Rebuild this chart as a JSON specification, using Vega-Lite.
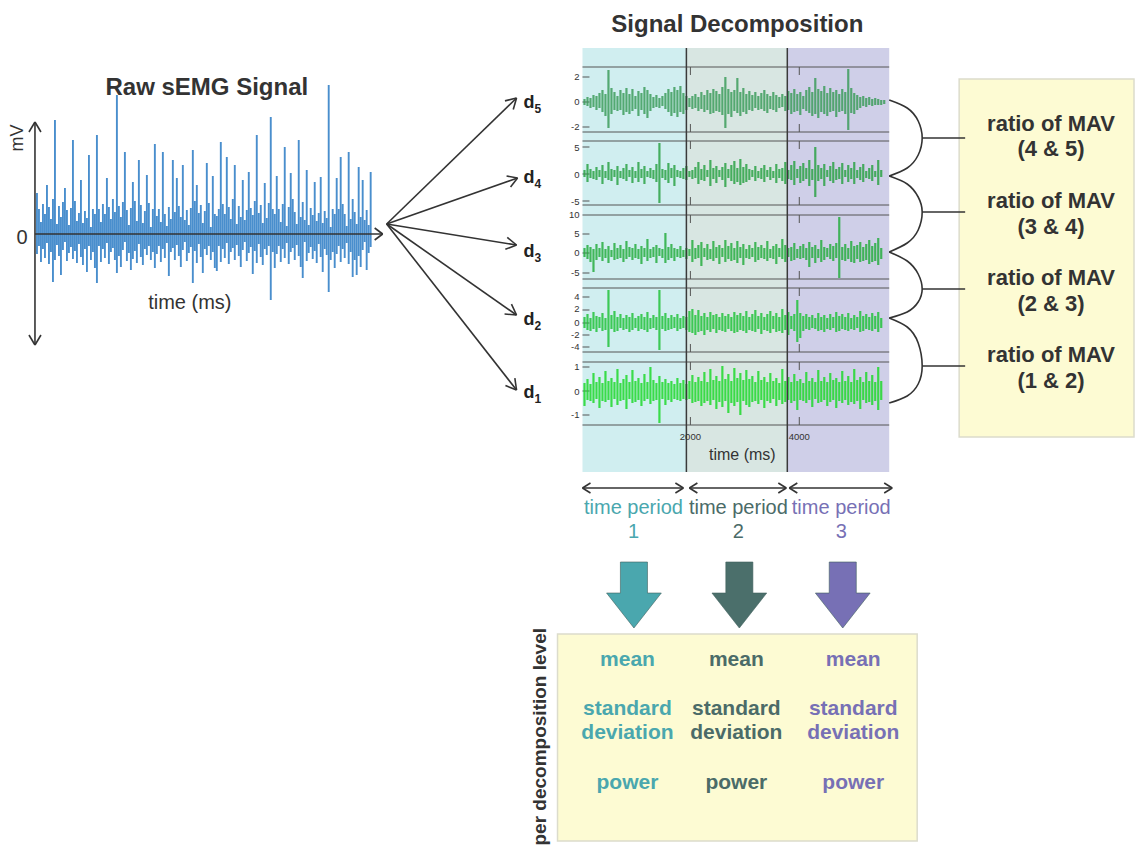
{
"$schema":"https://vega.github.io/schema/vega-lite/v6.json",
"width":1135,"height":851,"padding":0,
"autosize":{"type":"fit","contains":"padding"},
"background":"white",
"config":{"view":{"stroke":null},"text":{"font":"Liberation Sans"}},
"resolve":{"scale":{"color":"independent"}},
"encoding":{
"x":{"field":"x","type":"quantitative","scale":{"domain":[0,1135],"nice":false,"zero":false},"axis":null},
"y":{"field":"y","type":"quantitative","scale":{"domain":[0,851],"nice":false,"zero":false,"reverse":true},"axis":null}
},
"datasets":{
"periods":[{"x":583,"x2":687,"y":48,"y2":472,"p":"1"},{"x":687,"x2":788,"y":48,"y2":472,"p":"2"},{"x":788,"x2":890,"y":48,"y2":472,"p":"3"}],
"boxes":[{"x":960,"x2":1135,"y":79,"y2":437},{"x":558,"x2":918,"y":634,"y2":841}],
"grid":[
{"x":583,"y":67,"x2":890,"y2":67},{"x":583,"y":132,"x2":890,"y2":132},{"x":583,"y":141,"x2":890,"y2":141},{"x":583,"y":205,"x2":890,"y2":205},{"x":583,"y":215,"x2":890,"y2":215},{"x":583,"y":279,"x2":890,"y2":279},{"x":583,"y":288,"x2":890,"y2":288},{"x":583,"y":352,"x2":890,"y2":352},{"x":583,"y":362,"x2":890,"y2":362},{"x":583,"y":425,"x2":890,"y2":425},
{"x":691,"y":67,"x2":691,"y2":75},{"x":691,"y":124,"x2":691,"y2":132},{"x":691,"y":141,"x2":691,"y2":149},{"x":691,"y":197,"x2":691,"y2":205},{"x":691,"y":215,"x2":691,"y2":223},{"x":691,"y":271,"x2":691,"y2":279},{"x":691,"y":288,"x2":691,"y2":296},{"x":691,"y":344,"x2":691,"y2":352},{"x":691,"y":362,"x2":691,"y2":370},{"x":691,"y":417,"x2":691,"y2":425},
{"x":800,"y":67,"x2":800,"y2":75},{"x":800,"y":124,"x2":800,"y2":132},{"x":800,"y":141,"x2":800,"y2":149},{"x":800,"y":197,"x2":800,"y2":205},{"x":800,"y":215,"x2":800,"y2":223},{"x":800,"y":271,"x2":800,"y2":279},{"x":800,"y":288,"x2":800,"y2":296},{"x":800,"y":344,"x2":800,"y2":352},{"x":800,"y":362,"x2":800,"y2":370},{"x":800,"y":417,"x2":800,"y2":425},
{"x":583,"y":77,"x2":590,"y2":77},{"x":583,"y":102,"x2":590,"y2":102},{"x":583,"y":127,"x2":590,"y2":127},{"x":583,"y":147,"x2":590,"y2":147},{"x":583,"y":174,"x2":590,"y2":174},{"x":583,"y":201,"x2":590,"y2":201},{"x":583,"y":234,"x2":590,"y2":234},{"x":583,"y":253,"x2":590,"y2":253},{"x":583,"y":273,"x2":590,"y2":273},{"x":583,"y":297,"x2":590,"y2":297},{"x":583,"y":310,"x2":590,"y2":310},{"x":583,"y":323,"x2":590,"y2":323},{"x":583,"y":335,"x2":590,"y2":335},{"x":583,"y":347,"x2":590,"y2":347},{"x":583,"y":367,"x2":590,"y2":367},{"x":583,"y":391,"x2":590,"y2":391},{"x":583,"y":415,"x2":590,"y2":415}
],
"dividers":[{"x":687,"y":48,"x2":687,"y2":472},{"x":788,"y":48,"x2":788,"y2":472}],
"segs":[
{"x":35,"y":122,"x2":35,"y2":345},{"x":35,"y":122,"x2":29,"y2":132},{"x":35,"y":122,"x2":41,"y2":132},{"x":35,"y":345,"x2":29,"y2":335},{"x":35,"y":345,"x2":41,"y2":335},
{"x":35,"y":234,"x2":383,"y2":234},{"x":383,"y":234,"x2":375,"y2":228},{"x":383,"y":234,"x2":375,"y2":240},
{"x":387,"y":224,"x2":517,"y2":98},{"x":517,"y":98,"x2":505.4,"y2":100.9},{"x":517,"y":98,"x2":513.7,"y2":109.5},
{"x":387,"y":224,"x2":518,"y2":178},{"x":518,"y":178,"x2":507,"y2":176},{"x":518,"y":178,"x2":511,"y2":187},
{"x":387,"y":224,"x2":517,"y2":245},{"x":517,"y":245,"x2":507.7,"y2":237.4},{"x":517,"y":245,"x2":505.8,"y2":249.3},
{"x":387,"y":224,"x2":517,"y2":315},{"x":517,"y":315,"x2":511.9,"y2":304.1},{"x":517,"y":315,"x2":505,"y2":314},
{"x":387,"y":224,"x2":517,"y2":390},{"x":517,"y":390,"x2":515.3,"y2":378.1},{"x":517,"y":390,"x2":505.9,"y2":385.5},
{"x":923,"y":138,"x2":966,"y2":138},{"x":923,"y":212,"x2":966,"y2":212},{"x":923,"y":289,"x2":966,"y2":289},{"x":923,"y":366,"x2":966,"y2":366},
{"x":583,"y":488,"x2":684,"y2":488},{"x":583,"y":488,"x2":591,"y2":483},{"x":583,"y":488,"x2":591,"y2":493},{"x":684,"y":488,"x2":676,"y2":483},{"x":684,"y":488,"x2":676,"y2":493},
{"x":690,"y":488,"x2":787,"y2":488},{"x":690,"y":488,"x2":698,"y2":483},{"x":690,"y":488,"x2":698,"y2":493},{"x":787,"y":488,"x2":779,"y2":483},{"x":787,"y":488,"x2":779,"y2":493},
{"x":790,"y":488,"x2":893,"y2":488},{"x":790,"y":488,"x2":798,"y2":483},{"x":790,"y":488,"x2":798,"y2":493},{"x":893,"y":488,"x2":885,"y2":483},{"x":893,"y":488,"x2":885,"y2":493}
],
"arcs":[
{"g":1,"o":0,"x":890,"y":100},{"g":1,"o":1,"x":908,"y":108},{"g":1,"o":2,"x":919,"y":121},{"g":1,"o":3,"x":923,"y":138},{"g":1,"o":4,"x":919,"y":155},{"g":1,"o":5,"x":908,"y":168},{"g":1,"o":6,"x":890,"y":176},
{"g":2,"o":0,"x":890,"y":176},{"g":2,"o":1,"x":908,"y":184},{"g":2,"o":2,"x":919,"y":197},{"g":2,"o":3,"x":923,"y":212},{"g":2,"o":4,"x":919,"y":230},{"g":2,"o":5,"x":908,"y":243},{"g":2,"o":6,"x":890,"y":252},
{"g":3,"o":0,"x":890,"y":252},{"g":3,"o":1,"x":908,"y":261},{"g":3,"o":2,"x":919,"y":274},{"g":3,"o":3,"x":923,"y":289},{"g":3,"o":4,"x":919,"y":302},{"g":3,"o":5,"x":908,"y":312},{"g":3,"o":6,"x":890,"y":318},
{"g":4,"o":0,"x":890,"y":318},{"g":4,"o":1,"x":908,"y":327},{"g":4,"o":2,"x":919,"y":343},{"g":4,"o":3,"x":923,"y":366},{"g":4,"o":4,"x":919,"y":384},{"g":4,"o":5,"x":908,"y":396},{"g":4,"o":6,"x":890,"y":403}
],
"raw":[
{"x":37,"y":193,"y2":254},{"x":39,"y":209,"y2":246},{"x":41,"y":222,"y2":262},{"x":43,"y":204,"y2":249},{"x":45,"y":214,"y2":258},{"x":47,"y":185,"y2":243},{"x":49,"y":207,"y2":264},{"x":51,"y":219,"y2":252},{"x":53,"y":199,"y2":282},{"x":55,"y":120,"y2":260},
{"x":57,"y":224,"y2":245},{"x":59,"y":206,"y2":256},{"x":61,"y":217,"y2":275},{"x":63,"y":202,"y2":250},{"x":65,"y":188,"y2":242},{"x":67,"y":210,"y2":261},{"x":69,"y":225,"y2":253},{"x":71,"y":208,"y2":247},{"x":73,"y":140,"y2":259},{"x":75,"y":201,"y2":251},
{"x":77,"y":221,"y2":263},{"x":79,"y":213,"y2":244},{"x":81,"y":180,"y2":257},{"x":83,"y":223,"y2":265},{"x":85,"y":211,"y2":249},{"x":87,"y":218,"y2":272},{"x":89,"y":155,"y2":246},{"x":91,"y":227,"y2":260},{"x":93,"y":209,"y2":252},{"x":95,"y":214,"y2":268},
{"x":97,"y":135,"y2":283},{"x":99,"y":209,"y2":246},{"x":101,"y":222,"y2":262},{"x":103,"y":204,"y2":249},{"x":105,"y":214,"y2":258},{"x":107,"y":178,"y2":243},{"x":109,"y":207,"y2":264},{"x":111,"y":219,"y2":252},{"x":113,"y":199,"y2":248},{"x":115,"y":212,"y2":260},
{"x":117,"y":95,"y2":273},{"x":119,"y":206,"y2":256},{"x":121,"y":217,"y2":267},{"x":123,"y":202,"y2":250},{"x":125,"y":152,"y2":242},{"x":127,"y":210,"y2":261},{"x":129,"y":225,"y2":253},{"x":131,"y":208,"y2":270},{"x":133,"y":182,"y2":259},{"x":135,"y":201,"y2":251},
{"x":137,"y":221,"y2":263},{"x":139,"y":160,"y2":244},{"x":141,"y":205,"y2":257},{"x":143,"y":223,"y2":265},{"x":145,"y":211,"y2":249},{"x":147,"y":175,"y2":255},{"x":149,"y":203,"y2":246},{"x":151,"y":227,"y2":260},{"x":153,"y":209,"y2":252},{"x":155,"y":144,"y2":268},
{"x":157,"y":216,"y2":254},{"x":159,"y":209,"y2":246},{"x":161,"y":222,"y2":262},{"x":163,"y":152,"y2":249},{"x":165,"y":214,"y2":258},{"x":167,"y":226,"y2":243},{"x":169,"y":207,"y2":276},{"x":171,"y":219,"y2":252},{"x":173,"y":160,"y2":248},{"x":175,"y":212,"y2":260},
{"x":177,"y":178,"y2":245},{"x":179,"y":206,"y2":256},{"x":181,"y":217,"y2":267},{"x":183,"y":165,"y2":250},{"x":185,"y":220,"y2":242},{"x":187,"y":210,"y2":261},{"x":189,"y":225,"y2":253},{"x":191,"y":208,"y2":247},{"x":193,"y":150,"y2":283},{"x":195,"y":201,"y2":251},
{"x":197,"y":185,"y2":263},{"x":199,"y":213,"y2":244},{"x":201,"y":205,"y2":257},{"x":203,"y":223,"y2":273},{"x":205,"y":211,"y2":249},{"x":207,"y":163,"y2":255},{"x":209,"y":203,"y2":246},{"x":211,"y":227,"y2":260},{"x":213,"y":176,"y2":252},{"x":215,"y":214,"y2":268},
{"x":217,"y":216,"y2":271},{"x":219,"y":209,"y2":246},{"x":221,"y":142,"y2":262},{"x":223,"y":204,"y2":249},{"x":225,"y":214,"y2":258},{"x":227,"y":157,"y2":243},{"x":229,"y":207,"y2":264},{"x":231,"y":219,"y2":252},{"x":233,"y":199,"y2":248},{"x":235,"y":165,"y2":260},
{"x":237,"y":224,"y2":245},{"x":239,"y":206,"y2":256},{"x":241,"y":217,"y2":267},{"x":243,"y":180,"y2":250},{"x":245,"y":220,"y2":242},{"x":247,"y":210,"y2":261},{"x":249,"y":172,"y2":253},{"x":251,"y":208,"y2":247},{"x":253,"y":215,"y2":274},{"x":255,"y":201,"y2":251},
{"x":257,"y":135,"y2":263},{"x":259,"y":213,"y2":244},{"x":261,"y":205,"y2":257},{"x":263,"y":223,"y2":265},{"x":265,"y":183,"y2":249},{"x":267,"y":218,"y2":255},{"x":269,"y":203,"y2":246},{"x":271,"y":117,"y2":300},{"x":273,"y":209,"y2":252},{"x":275,"y":214,"y2":268},
{"x":277,"y":176,"y2":254},{"x":279,"y":209,"y2":246},{"x":281,"y":222,"y2":262},{"x":283,"y":204,"y2":249},{"x":285,"y":147,"y2":258},{"x":287,"y":226,"y2":243},{"x":289,"y":207,"y2":264},{"x":291,"y":173,"y2":252},{"x":293,"y":199,"y2":248},{"x":295,"y":212,"y2":260},
{"x":297,"y":224,"y2":245},{"x":299,"y":140,"y2":256},{"x":301,"y":217,"y2":267},{"x":303,"y":202,"y2":278},{"x":305,"y":220,"y2":242},{"x":307,"y":170,"y2":261},{"x":309,"y":225,"y2":253},{"x":311,"y":208,"y2":247},{"x":313,"y":215,"y2":259},{"x":315,"y":182,"y2":251},
{"x":317,"y":221,"y2":263},{"x":319,"y":213,"y2":244},{"x":321,"y":177,"y2":257},{"x":323,"y":223,"y2":272},{"x":325,"y":211,"y2":249},{"x":327,"y":218,"y2":255},{"x":329,"y":85,"y2":292},{"x":331,"y":227,"y2":260},{"x":333,"y":209,"y2":252},{"x":335,"y":214,"y2":268},
{"x":337,"y":178,"y2":254},{"x":339,"y":209,"y2":246},{"x":341,"y":157,"y2":262},{"x":343,"y":204,"y2":249},{"x":345,"y":214,"y2":258},{"x":347,"y":226,"y2":243},{"x":349,"y":152,"y2":264},{"x":351,"y":219,"y2":252},{"x":353,"y":199,"y2":277},{"x":355,"y":212,"y2":260},
{"x":357,"y":224,"y2":275},{"x":359,"y":167,"y2":256},{"x":361,"y":217,"y2":267},{"x":363,"y":180,"y2":250},{"x":365,"y":220,"y2":242},{"x":367,"y":210,"y2":270},{"x":369,"y":225,"y2":253},{"x":371,"y":172,"y2":247}
],
"d5":[
{"x":585,"y":99,"y2":105},{"x":588,"y":97,"y2":106},{"x":591,"y":98,"y2":108},{"x":594,"y":95,"y2":107},{"x":597,"y":96,"y2":110},{"x":600,"y":93,"y2":108},{"x":603,"y":90,"y2":112},{"x":606,"y":94,"y2":116},{"x":609,"y":70,"y2":128},{"x":612,"y":88,"y2":114},
{"x":615,"y":92,"y2":110},{"x":618,"y":96,"y2":111},{"x":621,"y":90,"y2":110},{"x":624,"y":93,"y2":115},{"x":627,"y":88,"y2":112},{"x":630,"y":94,"y2":114},{"x":633,"y":89,"y2":111},{"x":636,"y":96,"y2":109},{"x":639,"y":91,"y2":116},{"x":642,"y":93,"y2":110},
{"x":645,"y":87,"y2":114},{"x":648,"y":90,"y2":118},{"x":651,"y":94,"y2":111},{"x":654,"y":97,"y2":108},{"x":657,"y":95,"y2":107},{"x":660,"y":98,"y2":108},{"x":663,"y":96,"y2":106},{"x":666,"y":93,"y2":109},{"x":669,"y":89,"y2":112},{"x":672,"y":92,"y2":116},
{"x":675,"y":87,"y2":113},{"x":678,"y":90,"y2":117},{"x":681,"y":86,"y2":112},{"x":684,"y":93,"y2":114},{"x":687,"y":96,"y2":110},{"x":690,"y":98,"y2":107},{"x":693,"y":96,"y2":109},{"x":696,"y":94,"y2":108},{"x":699,"y":97,"y2":111},{"x":702,"y":92,"y2":109},
{"x":705,"y":95,"y2":112},{"x":708,"y":90,"y2":110},{"x":711,"y":93,"y2":114},{"x":714,"y":89,"y2":113},{"x":717,"y":91,"y2":111},{"x":720,"y":94,"y2":112},{"x":723,"y":87,"y2":115},{"x":726,"y":77,"y2":128},{"x":729,"y":89,"y2":114},{"x":732,"y":92,"y2":117},
{"x":735,"y":90,"y2":111},{"x":738,"y":78,"y2":113},{"x":741,"y":92,"y2":116},{"x":744,"y":88,"y2":112},{"x":747,"y":94,"y2":114},{"x":750,"y":91,"y2":110},{"x":753,"y":95,"y2":111},{"x":756,"y":92,"y2":108},{"x":759,"y":96,"y2":110},{"x":762,"y":93,"y2":109},
{"x":765,"y":90,"y2":111},{"x":768,"y":94,"y2":113},{"x":771,"y":96,"y2":109},{"x":774,"y":92,"y2":110},{"x":777,"y":95,"y2":112},{"x":780,"y":97,"y2":108},{"x":783,"y":94,"y2":107},{"x":786,"y":96,"y2":111},{"x":789,"y":91,"y2":110},{"x":792,"y":93,"y2":114},
{"x":795,"y":89,"y2":112},{"x":798,"y":94,"y2":111},{"x":801,"y":92,"y2":115},{"x":804,"y":96,"y2":109},{"x":807,"y":90,"y2":111},{"x":810,"y":87,"y2":113},{"x":813,"y":92,"y2":116},{"x":816,"y":78,"y2":114},{"x":819,"y":89,"y2":118},{"x":822,"y":91,"y2":112},
{"x":825,"y":86,"y2":114},{"x":828,"y":93,"y2":116},{"x":831,"y":88,"y2":112},{"x":834,"y":92,"y2":111},{"x":837,"y":90,"y2":117},{"x":840,"y":94,"y2":112},{"x":843,"y":89,"y2":111},{"x":846,"y":92,"y2":114},{"x":849,"y":69,"y2":130},{"x":852,"y":88,"y2":113},
{"x":855,"y":93,"y2":114},{"x":858,"y":95,"y2":110},{"x":861,"y":97,"y2":108},{"x":864,"y":96,"y2":106},{"x":867,"y":98,"y2":107},{"x":870,"y":97,"y2":105},{"x":873,"y":99,"y2":106},{"x":876,"y":98,"y2":105},{"x":879,"y":99,"y2":105},{"x":882,"y":100,"y2":105},{"x":885,"y":100,"y2":104}
],
"d4":[
{"x":585,"y":170,"y2":177},{"x":588,"y":164,"y2":182},{"x":591,"y":169,"y2":178},{"x":594,"y":171,"y2":179},{"x":597,"y":167,"y2":180},{"x":600,"y":170,"y2":177},{"x":603,"y":165,"y2":184},{"x":606,"y":171,"y2":178},{"x":609,"y":162,"y2":180},{"x":612,"y":169,"y2":181},
{"x":615,"y":170,"y2":177},{"x":618,"y":166,"y2":185},{"x":621,"y":171,"y2":178},{"x":624,"y":168,"y2":179},{"x":627,"y":164,"y2":181},{"x":630,"y":170,"y2":177},{"x":633,"y":167,"y2":183},{"x":636,"y":171,"y2":178},{"x":639,"y":162,"y2":182},{"x":642,"y":169,"y2":178},
{"x":645,"y":166,"y2":184},{"x":648,"y":171,"y2":177},{"x":651,"y":168,"y2":178},{"x":654,"y":170,"y2":179},{"x":657,"y":164,"y2":182},{"x":660,"y":143,"y2":203},{"x":663,"y":169,"y2":178},{"x":666,"y":170,"y2":180},{"x":669,"y":163,"y2":183},{"x":672,"y":168,"y2":178},
{"x":675,"y":165,"y2":186},{"x":678,"y":170,"y2":177},{"x":681,"y":171,"y2":178},{"x":684,"y":168,"y2":179},{"x":687,"y":166,"y2":180},{"x":690,"y":171,"y2":177},{"x":693,"y":170,"y2":179},{"x":696,"y":167,"y2":178},{"x":699,"y":162,"y2":184},{"x":702,"y":169,"y2":180},
{"x":705,"y":165,"y2":181},{"x":708,"y":170,"y2":177},{"x":711,"y":160,"y2":186},{"x":714,"y":168,"y2":179},{"x":717,"y":166,"y2":183},{"x":720,"y":170,"y2":177},{"x":723,"y":167,"y2":180},{"x":726,"y":163,"y2":187},{"x":729,"y":169,"y2":178},{"x":732,"y":165,"y2":181},
{"x":735,"y":161,"y2":184},{"x":738,"y":168,"y2":182},{"x":741,"y":159,"y2":185},{"x":744,"y":167,"y2":183},{"x":747,"y":164,"y2":182},{"x":750,"y":169,"y2":180},{"x":753,"y":170,"y2":177},{"x":756,"y":166,"y2":181},{"x":759,"y":171,"y2":178},{"x":762,"y":168,"y2":179},
{"x":765,"y":165,"y2":182},{"x":768,"y":170,"y2":177},{"x":771,"y":167,"y2":180},{"x":774,"y":171,"y2":178},{"x":777,"y":164,"y2":183},{"x":780,"y":169,"y2":178},{"x":783,"y":168,"y2":181},{"x":786,"y":162,"y2":184},{"x":789,"y":170,"y2":179},{"x":792,"y":165,"y2":180},
{"x":795,"y":161,"y2":185},{"x":798,"y":169,"y2":178},{"x":801,"y":166,"y2":183},{"x":804,"y":163,"y2":181},{"x":807,"y":168,"y2":179},{"x":810,"y":160,"y2":186},{"x":813,"y":169,"y2":180},{"x":816,"y":147,"y2":197},{"x":819,"y":165,"y2":181},{"x":822,"y":168,"y2":179},
{"x":825,"y":164,"y2":186},{"x":828,"y":170,"y2":177},{"x":831,"y":166,"y2":181},{"x":834,"y":162,"y2":183},{"x":837,"y":169,"y2":180},{"x":840,"y":167,"y2":179},{"x":843,"y":163,"y2":184},{"x":846,"y":170,"y2":177},{"x":849,"y":165,"y2":182},{"x":852,"y":168,"y2":179},
{"x":855,"y":162,"y2":184},{"x":858,"y":170,"y2":178},{"x":861,"y":167,"y2":180},{"x":864,"y":164,"y2":182},{"x":867,"y":171,"y2":178},{"x":870,"y":168,"y2":179},{"x":873,"y":165,"y2":181},{"x":876,"y":171,"y2":177},{"x":879,"y":160,"y2":185},{"x":882,"y":170,"y2":177}
],
"d3":[
{"x":585,"y":248,"y2":257},{"x":588,"y":245,"y2":259},{"x":591,"y":247,"y2":262},{"x":594,"y":249,"y2":272},{"x":597,"y":244,"y2":260},{"x":600,"y":248,"y2":257},{"x":603,"y":242,"y2":261},{"x":606,"y":249,"y2":258},{"x":609,"y":246,"y2":263},{"x":612,"y":250,"y2":257},
{"x":615,"y":243,"y2":260},{"x":618,"y":248,"y2":259},{"x":621,"y":245,"y2":258},{"x":624,"y":249,"y2":262},{"x":627,"y":241,"y2":259},{"x":630,"y":247,"y2":257},{"x":633,"y":248,"y2":260},{"x":636,"y":244,"y2":258},{"x":639,"y":249,"y2":259},{"x":642,"y":246,"y2":264},
{"x":645,"y":248,"y2":257},{"x":648,"y":239,"y2":261},{"x":651,"y":249,"y2":258},{"x":654,"y":247,"y2":257},{"x":657,"y":245,"y2":263},{"x":660,"y":248,"y2":256},{"x":663,"y":249,"y2":258},{"x":666,"y":233,"y2":263},{"x":669,"y":247,"y2":260},{"x":672,"y":244,"y2":258},
{"x":675,"y":248,"y2":261},{"x":678,"y":249,"y2":257},{"x":681,"y":246,"y2":258},{"x":684,"y":250,"y2":257},{"x":687,"y":248,"y2":259},{"x":690,"y":249,"y2":256},{"x":693,"y":240,"y2":262},{"x":696,"y":248,"y2":259},{"x":699,"y":245,"y2":258},{"x":702,"y":242,"y2":266},
{"x":705,"y":248,"y2":257},{"x":708,"y":244,"y2":260},{"x":711,"y":249,"y2":259},{"x":714,"y":241,"y2":261},{"x":717,"y":247,"y2":258},{"x":720,"y":245,"y2":264},{"x":723,"y":248,"y2":257},{"x":726,"y":240,"y2":262},{"x":729,"y":246,"y2":259},{"x":732,"y":243,"y2":261},
{"x":735,"y":248,"y2":260},{"x":738,"y":241,"y2":263},{"x":741,"y":247,"y2":258},{"x":744,"y":244,"y2":265},{"x":747,"y":249,"y2":258},{"x":750,"y":245,"y2":259},{"x":753,"y":248,"y2":257},{"x":756,"y":242,"y2":262},{"x":759,"y":247,"y2":260},{"x":762,"y":245,"y2":258},
{"x":765,"y":248,"y2":259},{"x":768,"y":241,"y2":261},{"x":771,"y":249,"y2":258},{"x":774,"y":246,"y2":259},{"x":777,"y":244,"y2":264},{"x":780,"y":248,"y2":257},{"x":783,"y":239,"y2":259},{"x":786,"y":245,"y2":262},{"x":789,"y":248,"y2":257},{"x":792,"y":247,"y2":261},
{"x":795,"y":243,"y2":260},{"x":798,"y":249,"y2":258},{"x":801,"y":246,"y2":259},{"x":804,"y":244,"y2":258},{"x":807,"y":248,"y2":260},{"x":810,"y":242,"y2":267},{"x":813,"y":247,"y2":258},{"x":816,"y":245,"y2":263},{"x":819,"y":249,"y2":258},{"x":822,"y":240,"y2":262},
{"x":825,"y":247,"y2":260},{"x":828,"y":248,"y2":257},{"x":831,"y":244,"y2":259},{"x":834,"y":246,"y2":261},{"x":837,"y":243,"y2":258},{"x":840,"y":217,"y2":278},{"x":843,"y":247,"y2":260},{"x":846,"y":244,"y2":261},{"x":849,"y":248,"y2":259},{"x":852,"y":241,"y2":262},
{"x":855,"y":246,"y2":263},{"x":858,"y":245,"y2":259},{"x":861,"y":242,"y2":262},{"x":864,"y":247,"y2":261},{"x":867,"y":244,"y2":260},{"x":870,"y":240,"y2":264},{"x":873,"y":246,"y2":262},{"x":876,"y":243,"y2":261},{"x":879,"y":238,"y2":265},{"x":882,"y":248,"y2":259}
],
"d2":[
{"x":585,"y":317,"y2":328},{"x":588,"y":314,"y2":330},{"x":591,"y":318,"y2":331},{"x":594,"y":312,"y2":329},{"x":597,"y":316,"y2":332},{"x":600,"y":317,"y2":328},{"x":603,"y":313,"y2":331},{"x":606,"y":318,"y2":330},{"x":609,"y":290,"y2":347},{"x":612,"y":315,"y2":329},
{"x":615,"y":311,"y2":332},{"x":618,"y":317,"y2":331},{"x":621,"y":314,"y2":328},{"x":624,"y":318,"y2":330},{"x":627,"y":315,"y2":329},{"x":630,"y":317,"y2":332},{"x":633,"y":313,"y2":330},{"x":636,"y":318,"y2":328},{"x":639,"y":316,"y2":331},{"x":642,"y":314,"y2":329},
{"x":645,"y":317,"y2":330},{"x":648,"y":312,"y2":332},{"x":651,"y":318,"y2":329},{"x":654,"y":315,"y2":328},{"x":657,"y":317,"y2":330},{"x":660,"y":290,"y2":350},{"x":663,"y":316,"y2":329},{"x":666,"y":313,"y2":331},{"x":669,"y":318,"y2":330},{"x":672,"y":315,"y2":329},
{"x":675,"y":317,"y2":328},{"x":678,"y":314,"y2":331},{"x":681,"y":318,"y2":329},{"x":684,"y":316,"y2":328},{"x":687,"y":317,"y2":330},{"x":690,"y":311,"y2":332},{"x":693,"y":309,"y2":333},{"x":696,"y":315,"y2":335},{"x":699,"y":310,"y2":332},{"x":702,"y":316,"y2":331},
{"x":705,"y":313,"y2":335},{"x":708,"y":317,"y2":330},{"x":711,"y":312,"y2":332},{"x":714,"y":315,"y2":329},{"x":717,"y":314,"y2":333},{"x":720,"y":317,"y2":330},{"x":723,"y":313,"y2":331},{"x":726,"y":316,"y2":332},{"x":729,"y":314,"y2":329},{"x":732,"y":317,"y2":331},
{"x":735,"y":312,"y2":333},{"x":738,"y":315,"y2":332},{"x":741,"y":313,"y2":330},{"x":744,"y":316,"y2":331},{"x":747,"y":311,"y2":333},{"x":750,"y":317,"y2":330},{"x":753,"y":314,"y2":331},{"x":756,"y":310,"y2":332},{"x":759,"y":316,"y2":329},{"x":762,"y":313,"y2":334},
{"x":765,"y":317,"y2":330},{"x":768,"y":314,"y2":331},{"x":771,"y":311,"y2":333},{"x":774,"y":316,"y2":329},{"x":777,"y":313,"y2":332},{"x":780,"y":317,"y2":331},{"x":783,"y":309,"y2":333},{"x":786,"y":315,"y2":330},{"x":789,"y":312,"y2":335},{"x":792,"y":316,"y2":329},
{"x":795,"y":314,"y2":331},{"x":798,"y":300,"y2":342},{"x":801,"y":313,"y2":338},{"x":804,"y":316,"y2":331},{"x":807,"y":314,"y2":329},{"x":810,"y":317,"y2":330},{"x":813,"y":315,"y2":328},{"x":816,"y":318,"y2":329},{"x":819,"y":313,"y2":331},{"x":822,"y":317,"y2":330},
{"x":825,"y":315,"y2":332},{"x":828,"y":318,"y2":329},{"x":831,"y":314,"y2":330},{"x":834,"y":317,"y2":328},{"x":837,"y":312,"y2":332},{"x":840,"y":316,"y2":331},{"x":843,"y":314,"y2":329},{"x":846,"y":317,"y2":330},{"x":849,"y":313,"y2":331},{"x":852,"y":318,"y2":329},
{"x":855,"y":315,"y2":330},{"x":858,"y":317,"y2":328},{"x":861,"y":311,"y2":332},{"x":864,"y":316,"y2":331},{"x":867,"y":314,"y2":329},{"x":870,"y":317,"y2":330},{"x":873,"y":313,"y2":331},{"x":876,"y":316,"y2":329},{"x":879,"y":312,"y2":332},{"x":882,"y":318,"y2":328}
],
"d1":[
{"x":585,"y":383,"y2":406},{"x":588,"y":379,"y2":400},{"x":591,"y":384,"y2":401},{"x":594,"y":373,"y2":403},{"x":597,"y":382,"y2":399},{"x":600,"y":377,"y2":408},{"x":603,"y":383,"y2":401},{"x":606,"y":371,"y2":402},{"x":609,"y":381,"y2":400},{"x":612,"y":378,"y2":407},
{"x":615,"y":382,"y2":399},{"x":618,"y":369,"y2":405},{"x":621,"y":383,"y2":401},{"x":624,"y":379,"y2":400},{"x":627,"y":375,"y2":409},{"x":630,"y":382,"y2":399},{"x":633,"y":370,"y2":403},{"x":636,"y":381,"y2":402},{"x":639,"y":378,"y2":400},{"x":642,"y":383,"y2":406},
{"x":645,"y":374,"y2":401},{"x":648,"y":382,"y2":399},{"x":651,"y":367,"y2":404},{"x":654,"y":380,"y2":401},{"x":657,"y":383,"y2":400},{"x":660,"y":376,"y2":423},{"x":663,"y":382,"y2":399},{"x":666,"y":379,"y2":405},{"x":669,"y":383,"y2":400},{"x":672,"y":381,"y2":402},
{"x":675,"y":384,"y2":399},{"x":678,"y":378,"y2":400},{"x":681,"y":383,"y2":401},{"x":684,"y":380,"y2":399},{"x":687,"y":384,"y2":400},{"x":690,"y":381,"y2":399},{"x":693,"y":375,"y2":403},{"x":696,"y":382,"y2":402},{"x":699,"y":377,"y2":401},{"x":702,"y":381,"y2":406},
{"x":705,"y":372,"y2":403},{"x":708,"y":382,"y2":401},{"x":711,"y":369,"y2":405},{"x":714,"y":380,"y2":400},{"x":717,"y":376,"y2":409},{"x":720,"y":381,"y2":402},{"x":723,"y":366,"y2":407},{"x":726,"y":379,"y2":401},{"x":729,"y":374,"y2":413},{"x":732,"y":381,"y2":403},
{"x":735,"y":368,"y2":406},{"x":738,"y":378,"y2":402},{"x":741,"y":373,"y2":415},{"x":744,"y":380,"y2":401},{"x":747,"y":370,"y2":405},{"x":750,"y":379,"y2":407},{"x":753,"y":376,"y2":402},{"x":756,"y":382,"y2":401},{"x":759,"y":371,"y2":404},{"x":762,"y":380,"y2":400},
{"x":765,"y":377,"y2":408},{"x":768,"y":382,"y2":401},{"x":771,"y":373,"y2":403},{"x":774,"y":381,"y2":399},{"x":777,"y":378,"y2":406},{"x":780,"y":383,"y2":400},{"x":783,"y":369,"y2":404},{"x":786,"y":381,"y2":402},{"x":789,"y":377,"y2":400},{"x":792,"y":382,"y2":403},
{"x":795,"y":374,"y2":401},{"x":798,"y":381,"y2":410},{"x":801,"y":379,"y2":400},{"x":804,"y":383,"y2":401},{"x":807,"y":372,"y2":403},{"x":810,"y":381,"y2":400},{"x":813,"y":378,"y2":407},{"x":816,"y":382,"y2":399},{"x":819,"y":370,"y2":403},{"x":822,"y":381,"y2":402},
{"x":825,"y":377,"y2":400},{"x":828,"y":382,"y2":406},{"x":831,"y":373,"y2":402},{"x":834,"y":380,"y2":400},{"x":837,"y":378,"y2":408},{"x":840,"y":382,"y2":401},{"x":843,"y":371,"y2":403},{"x":846,"y":381,"y2":400},{"x":849,"y":376,"y2":405},{"x":852,"y":382,"y2":402},
{"x":855,"y":369,"y2":404},{"x":858,"y":380,"y2":401},{"x":861,"y":377,"y2":409},{"x":864,"y":382,"y2":400},{"x":867,"y":372,"y2":403},{"x":870,"y":381,"y2":402},{"x":873,"y":375,"y2":405},{"x":876,"y":382,"y2":401},{"x":879,"y":367,"y2":410},{"x":882,"y":381,"y2":400}
],
"titles":[{"x":207,"y":88,"s":"Raw sEMG Signal"},{"x":738,"y":25,"s":"Signal Decomposition"}],
"ratios":[{"x":1052,"y":124,"s":"ratio of MAV"},{"x":1052,"y":149,"s":"(4 & 5)"},{"x":1052,"y":201,"s":"ratio of MAV"},{"x":1052,"y":227,"s":"(3 & 4)"},{"x":1052,"y":278,"s":"ratio of MAV"},{"x":1052,"y":304,"s":"(2 & 3)"},{"x":1052,"y":355,"s":"ratio of MAV"},{"x":1052,"y":381,"s":"(1 & 2)"}],
"dl":[{"x":524,"y":108,"s":"d"},{"x":524,"y":183,"s":"d"},{"x":524,"y":257,"s":"d"},{"x":524,"y":325,"s":"d"},{"x":524,"y":398,"s":"d"}],
"dsub":[{"x":535,"y":113,"s":"5"},{"x":535,"y":188,"s":"4"},{"x":535,"y":262,"s":"3"},{"x":535,"y":330,"s":"2"},{"x":535,"y":403,"s":"1"}],
"plain":[{"x":190,"y":303,"s":"time (ms)"},{"x":22,"y":238,"s":"0"}],
"mv":[{"x":18,"y":138,"s":"mV"}],
"ticklabels":[{"x":580,"y":77,"s":"2"},{"x":580,"y":102,"s":"0"},{"x":580,"y":127,"s":"-2"},{"x":580,"y":148,"s":"5"},{"x":580,"y":175,"s":"0"},{"x":580,"y":202,"s":"-5"},{"x":580,"y":215,"s":"10"},{"x":580,"y":234,"s":"5"},{"x":580,"y":253,"s":"0"},{"x":580,"y":273,"s":"-5"},{"x":580,"y":297,"s":"4"},{"x":580,"y":309,"s":"2"},{"x":580,"y":323,"s":"0"},{"x":580,"y":335,"s":"-2"},{"x":580,"y":347,"s":"-4"},{"x":580,"y":367,"s":"1"},{"x":580,"y":392,"s":"0"},{"x":580,"y":415,"s":"-1"}],
"xticklabels":[{"x":691,"y":437,"s":"2000"},{"x":800,"y":437,"s":"4000"}],
"dtime":[{"x":743,"y":455,"s":"time (ms)"}],
"ptext":[{"x":634,"y":508,"s":"time period","p":"1"},{"x":634,"y":532,"s":"1","p":"1"},{"x":739,"y":508,"s":"time period","p":"2"},{"x":739,"y":532,"s":"2","p":"2"},{"x":842,"y":508,"s":"time period","p":"3"},{"x":842,"y":532,"s":"3","p":"3"}],
"arrows":[{"x":634.5,"y":595,"p":"1"},{"x":740,"y":595,"p":"2"},{"x":843.5,"y":595,"p":"3"}],
"feat":[{"x":628,"y":660,"s":"mean","p":"1"},{"x":737,"y":660,"s":"mean","p":"2"},{"x":854,"y":660,"s":"mean","p":"3"},
{"x":628,"y":709,"s":"standard","p":"1"},{"x":737,"y":709,"s":"standard","p":"2"},{"x":854,"y":709,"s":"standard","p":"3"},
{"x":628,"y":733,"s":"deviation","p":"1"},{"x":737,"y":733,"s":"deviation","p":"2"},{"x":854,"y":733,"s":"deviation","p":"3"},
{"x":628,"y":783,"s":"power","p":"1"},{"x":737,"y":783,"s":"power","p":"2"},{"x":854,"y":783,"s":"power","p":"3"}],
"side":[{"x":540,"y":628,"s":"per decomposition level"}]
},
"layer":[
{"data":{"name":"periods"},"mark":{"type":"rect"},"encoding":{"x2":{"field":"x2"},"y2":{"field":"y2"},"color":{"field":"p","type":"nominal","scale":{"domain":["1","2","3"],"range":["#d0eef0","#d8e6e2","#cfcfe8"]},"legend":null}}},
{"data":{"name":"boxes"},"mark":{"type":"rect","fill":"#fdfbd3","stroke":"#dcdccc","strokeWidth":1.5},"encoding":{"x2":{"field":"x2"},"y2":{"field":"y2"}}},
{"data":{"name":"grid"},"mark":{"type":"rule","color":"#555555","strokeWidth":1},"encoding":{"x2":{"field":"x2"},"y2":{"field":"y2"}}},
{"data":{"name":"raw"},"mark":{"type":"rule","color":"#1b72c0","strokeWidth":1.9,"opacity":0.8},"encoding":{"y2":{"field":"y2"}}},
{"data":{"name":"d5"},"mark":{"type":"rule","color":"#3d9c5c","strokeWidth":2.2,"opacity":0.85},"encoding":{"y2":{"field":"y2"}}},
{"data":{"name":"d4"},"mark":{"type":"rule","color":"#2ba245","strokeWidth":2.2,"opacity":0.85},"encoding":{"y2":{"field":"y2"}}},
{"data":{"name":"d3"},"mark":{"type":"rule","color":"#27ad3f","strokeWidth":2.2,"opacity":0.85},"encoding":{"y2":{"field":"y2"}}},
{"data":{"name":"d2"},"mark":{"type":"rule","color":"#22c23b","strokeWidth":2.2,"opacity":0.85},"encoding":{"y2":{"field":"y2"}}},
{"data":{"name":"d1"},"mark":{"type":"rule","color":"#1fd82c","strokeWidth":2.2,"opacity":0.85},"encoding":{"y2":{"field":"y2"}}},
{"data":{"name":"dividers"},"mark":{"type":"rule","color":"#3a3a3a","strokeWidth":1.5},"encoding":{"x2":{"field":"x2"},"y2":{"field":"y2"}}},
{"data":{"name":"segs"},"mark":{"type":"rule","color":"#333333","strokeWidth":1.6},"encoding":{"x2":{"field":"x2"},"y2":{"field":"y2"}}},
{"data":{"name":"arcs"},"mark":{"type":"line","interpolate":"natural","color":"#333333","strokeWidth":1.6},"encoding":{"detail":{"field":"g","type":"nominal"},"order":{"field":"o","type":"quantitative"}}},
{"data":{"name":"titles"},"mark":{"type":"text","fontSize":24,"fontWeight":"bold","color":"#333333","align":"center","baseline":"middle"},"encoding":{"text":{"field":"s"}}},
{"data":{"name":"ratios"},"mark":{"type":"text","fontSize":22,"fontWeight":"bold","color":"#333333","align":"center","baseline":"middle"},"encoding":{"text":{"field":"s"}}},
{"data":{"name":"dl"},"mark":{"type":"text","fontSize":18,"fontWeight":"bold","color":"#222222","align":"left","baseline":"alphabetic"},"encoding":{"text":{"field":"s"}}},
{"data":{"name":"dsub"},"mark":{"type":"text","fontSize":12,"fontWeight":"bold","color":"#222222","align":"left","baseline":"alphabetic"},"encoding":{"text":{"field":"s"}}},
{"data":{"name":"plain"},"mark":{"type":"text","fontSize":20,"color":"#333333","align":"center","baseline":"middle"},"encoding":{"text":{"field":"s"}}},
{"data":{"name":"mv"},"mark":{"type":"text","fontSize":18,"color":"#333333","align":"center","baseline":"middle","angle":270},"encoding":{"text":{"field":"s"}}},
{"data":{"name":"ticklabels"},"mark":{"type":"text","fontSize":9.5,"color":"#333333","align":"right","baseline":"middle"},"encoding":{"text":{"field":"s"}}},
{"data":{"name":"xticklabels"},"mark":{"type":"text","fontSize":9.5,"color":"#333333","align":"center","baseline":"middle"},"encoding":{"text":{"field":"s"}}},
{"data":{"name":"dtime"},"mark":{"type":"text","fontSize":16,"color":"#333333","align":"center","baseline":"middle"},"encoding":{"text":{"field":"s"}}},
{"data":{"name":"ptext"},"mark":{"type":"text","fontSize":20,"align":"center","baseline":"middle"},"encoding":{"text":{"field":"s"},"color":{"field":"p","type":"nominal","scale":{"domain":["1","2","3"],"range":["#4aa7ae","#4b6b68","#7770b5"]},"legend":null}}},
{"data":{"name":"arrows"},"mark":{"type":"point","shape":"M -0.41 -1 L 0.41 -1 L 0.41 -0.06 L 0.83 -0.06 L 0 1 L -0.83 -0.06 L -0.41 -0.06 Z","size":4356,"filled":true,"opacity":1,"stroke":"#3f5f5c","strokeWidth":0.6},"encoding":{"color":{"field":"p","type":"nominal","scale":{"domain":["1","2","3"],"range":["#4aa7ae","#4b6f6b","#7770b5"]},"legend":null}}},
{"data":{"name":"feat"},"mark":{"type":"text","fontSize":21,"fontWeight":"bold","align":"center","baseline":"middle"},"encoding":{"text":{"field":"s"},"color":{"field":"p","type":"nominal","scale":{"domain":["1","2","3"],"range":["#4aa7ae","#4b6b68","#7770b5"]},"legend":null}}},
{"data":{"name":"side"},"mark":{"type":"text","fontSize":19,"fontWeight":"bold","color":"#333333","align":"right","baseline":"middle","angle":270},"encoding":{"text":{"field":"s"}}}
]
}
